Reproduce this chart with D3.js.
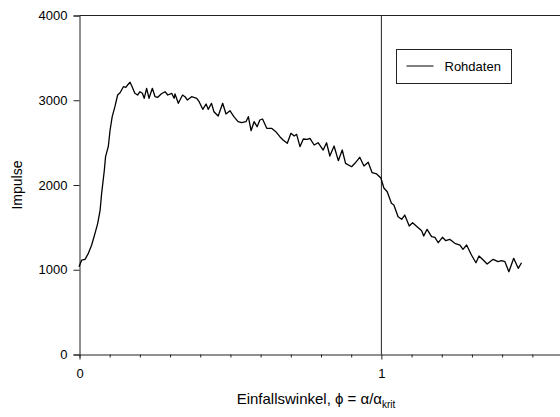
<!DOCTYPE html>
<html>
<head>
<meta charset="utf-8">
<script src="https://cdn.jsdelivr.net/npm/d3@7"></script>
<style>
  body { margin: 0; background: #fff; }
  svg { display: block; font-family: "Liberation Sans", Arial, sans-serif; }
</style>
</head>
<body>
<svg id="chart" width="560" height="417"></svg>
<script>
// Rohdaten: Einfallswinkel phi (alpha/alpha_krit) und Impulse
const phiValues = [0.000, 0.009, 0.020, 0.031, 0.042, 0.053, 0.062, 0.070, 0.075, 0.084,
  0.088, 0.097, 0.103, 0.110, 0.119, 0.128, 0.136, 0.147, 0.155, 0.161,
  0.169, 0.176, 0.185, 0.194, 0.202, 0.210, 0.216, 0.224, 0.232, 0.243,
  0.252, 0.261, 0.272, 0.285, 0.294, 0.307, 0.315, 0.318, 0.329, 0.343,
  0.351, 0.359, 0.373, 0.390, 0.398, 0.410, 0.421, 0.428, 0.439, 0.447,
  0.461, 0.476, 0.487, 0.500, 0.513, 0.527, 0.539, 0.553, 0.561, 0.570,
  0.580, 0.590, 0.599, 0.608, 0.622, 0.638, 0.652, 0.666, 0.676, 0.690,
  0.702, 0.713, 0.721, 0.732, 0.743, 0.757, 0.765, 0.779, 0.792, 0.809,
  0.820, 0.831, 0.845, 0.859, 0.872, 0.883, 0.903, 0.914, 0.930, 0.944,
  0.958, 0.971, 0.986, 1.000, 1.010, 1.021, 1.035, 1.043, 1.057, 1.069,
  1.079, 1.094, 1.105, 1.120, 1.135, 1.142, 1.153, 1.168, 1.179, 1.190,
  1.204, 1.215, 1.228, 1.245, 1.262, 1.272, 1.284, 1.300, 1.315, 1.325,
  1.339, 1.352, 1.372, 1.388, 1.400, 1.411, 1.424, 1.440, 1.455, 1.466];
const impulseValues = [1030, 1109, 1117, 1188, 1286, 1424, 1542, 1699, 1896, 2171,
  2328, 2446, 2643, 2800, 2918, 3056, 3083, 3154, 3147, 3174,
  3206, 3154, 3076, 3056, 3095, 3076, 3017, 3135, 3017, 3135,
  3036, 3029, 3068, 3095, 3056, 3076, 3017, 3068, 2958, 3056,
  3036, 2997, 3036, 3017, 2977, 2887, 2950, 2887, 2958, 2859,
  2808, 2958, 2832, 2871, 2800, 2741, 2729, 2741, 2800, 2635,
  2741, 2682, 2761, 2773, 2663, 2663, 2623, 2561, 2525, 2486,
  2604, 2572, 2592, 2446, 2537, 2533, 2545, 2466, 2493, 2407,
  2493, 2336, 2454, 2281, 2407, 2250, 2210, 2250, 2321, 2218,
  2262, 2139, 2124, 2077, 1959, 1915, 1778, 1758, 1620, 1589,
  1640, 1510, 1549, 1502, 1455, 1392, 1471, 1384, 1377, 1313,
  1377, 1337, 1353, 1306, 1286, 1235, 1286, 1168, 1077, 1156,
  1109, 1062, 1117, 1089, 1101, 1089, 971, 1129, 1011, 1077];
const yTicks = [0, 1000, 2000, 3000, 4000];
const xMinorTicks = [0, 0.1, 0.2, 0.3, 0.4, 0.5, 0.6, 0.7, 0.8, 0.9, 1, 1.1, 1.2, 1.3, 1.4, 1.5, 1.6];
const xTickLabels = [0, 1];
const critPhi = 1;
const legendLabel = "Rohdaten";

let data = phiValues.map((p, i) => ({ phi: p, value: impulseValues[i] }));

let svg = d3.select("#chart");
let margin = { top: 15, left: 79, bottom: 354 };

//#region scales
let xscale = d3.scaleLinear().domain([0, 1.6]).range([margin.left, margin.left + 483]);
let yscale = d3.scaleLinear().domain([0, 4000]).range([margin.bottom, margin.top]);
//#endregion

let g = svg.append("g").attr("transform", "translate(0.5,0.5)");

// top frame + critical angle line
g.append("line")
    .attr("x1", xscale(0)).attr("x2", xscale(1.6))
    .attr("y1", yscale(4000)).attr("y2", yscale(4000))
    .attr("stroke", "#222");
g.append("line")
    .attr("x1", xscale(critPhi)).attr("x2", xscale(critPhi))
    .attr("y1", yscale(4000)).attr("y2", yscale(0))
    .attr("stroke", "#222");

//#region axes
let xAxis = d3.axisBottom(xscale)
    .tickValues(xMinorTicks)
    .tickSize(3)
    .tickFormat(d => xTickLabels.includes(d) ? d3.format("d")(d) : "");
let gx = g.append("g")
    .attr("transform", `translate(0,${yscale(0)})`)
    .call(xAxis);
gx.select(".domain").attr("stroke", "#222");
gx.selectAll(".tick line").attr("stroke", "#222")
    .attr("y2", d => xTickLabels.includes(d) ? 5 : 3);
gx.selectAll(".tick text")
    .attr("y", 14)
    .attr("font-size", 13)
    .attr("font-family", "Liberation Sans, Arial, sans-serif")
    .attr("fill", "#000");

let yAxis = d3.axisLeft(yscale).tickValues(yTicks).tickSize(6).tickPadding(6).tickFormat(d3.format("d"));
let gy = g.append("g")
    .attr("transform", `translate(${xscale(0)},0)`)
    .call(yAxis);
gy.select(".domain").attr("stroke", "#222");
gy.selectAll(".tick line").attr("stroke", "#222");
gy.selectAll(".tick text")
    .attr("font-size", 13)
    .attr("font-family", "Liberation Sans, Arial, sans-serif")
    .attr("fill", "#000");
//#endregion

// the measured curve
svg.append("path")
    .datum(data)
    .attr("fill", "none")
    .attr("stroke", "#000")
    .attr("stroke-width", 1.3)
    .attr("stroke-linejoin", "round")
    .attr("d", d3.line()
        .x(d => xscale(d.phi))
        .y(d => yscale(d.value)));

//#region titles
svg.append("text")
    .attr("transform", "translate(22,185) rotate(-90)")
    .attr("text-anchor", "middle")
    .attr("font-size", 14)
    .text("Impulse");

let xt = svg.append("text")
    .attr("x", 316)
    .attr("y", 404)
    .attr("text-anchor", "middle")
    .attr("font-size", 15);
xt.append("tspan").text("Einfallswinkel, \u03D5 = \u03B1/\u03B1");
xt.append("tspan").attr("dy", 4).attr("font-size", 10).text("krit");
//#endregion

//#region legend
let legend = svg.append("g").attr("transform", "translate(396.5,49.5)");
legend.append("rect")
    .attr("width", 115).attr("height", 34)
    .attr("fill", "#fff").attr("stroke", "#222");
legend.append("line")
    .attr("x1", 10).attr("x2", 37)
    .attr("y1", 16.5).attr("y2", 16.5)
    .attr("stroke", "#000");
legend.append("text")
    .attr("x", 48).attr("y", 21.5)
    .attr("font-size", 13)
    .text(legendLabel);
//#endregion
</script>
</body>
</html>
